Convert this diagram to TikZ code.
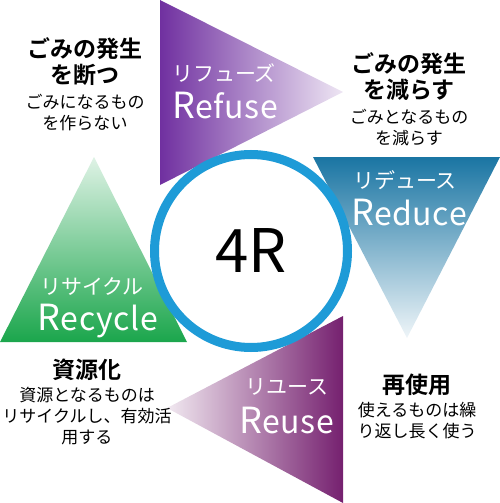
\documentclass[tikz,border=0pt]{standalone}
\usepackage{fontspec}
\setmainfont{Noto Sans CJK JP}[BoldFont={Noto Sans CJK JP Bold}]
\usetikzlibrary{positioning}

\definecolor{refusecol}{HTML}{7030A0}
\definecolor{reducecol}{HTML}{1A75A3}
\definecolor{reusecol}{HTML}{75206F}
\definecolor{recyclecol}{HTML}{1BA64C}
\definecolor{ringcol}{HTML}{1E9BD7}

\newcommand{\bigword}[2]{{\fontsize{36}{36}\selectfont #1}#2}

\begin{document}
\begin{tikzpicture}[x=1pt, y=-1pt,
  tag node/.style={text=white, inner sep=0pt, font=\fontsize{21}{24}\selectfont},
  word node/.style={text=white, inner sep=0pt, anchor=base, font=\fontsize{32}{34}\selectfont\addfontfeature{LetterSpace=2}},
  head node/.style={align=center, inner sep=0pt, font=\bfseries\fontsize{23}{26}\selectfont},
  note node/.style={align=center, inner sep=0pt, font=\fontsize{17}{21}\selectfont},
  ring node/.style={circle, draw=ringcol, line width=9pt, fill=white, minimum size=193pt, font=\fontsize{60}{62}\selectfont}]

  \useasboundingbox (0,0) rectangle (500,503);

  % Triangles
  \shade[left color=refusecol, right color=refusecol!12] (160,0) -- (160,185) -- (343,92) -- cycle;
  \shade[top color=reducecol, bottom color=reducecol!7] (313,157) -- (500,157) -- (407,338) -- cycle;
  \shade[right color=reusecol, left color=reusecol!10] (343,316) -- (343,503) -- (167,408) -- cycle;
  \shade[bottom color=recyclecol, top color=recyclecol!14] (0,342) -- (187,342) -- (94,157) -- cycle;

  % Centre
  \node[ring node] (core) at (251,251) {4R};

  % Triangle labels
  \node[tag node] (refuse) at (224,73) {リフューズ};
  \node[word node] (refuseword) at (225,118) {\bigword{R}{efuse}};
  \node[tag node] (reduce) at (405,180) {リデュース};
  \node[word node] (reduceword) at (409,225) {\bigword{R}{educe}};
  \node[tag node] (reuse) at (287,387) {リユース};
  \node[word node] (reuseword) at (287,433) {\bigword{R}{euse}};
  \node[tag node] (recycle) at (92,287) {リサイクル};
  \node[word node] (recycleword) at (98,330) {\bigword{R}{ecycle}};

  % Side texts
  \node[head node] (refusehead) at (85,62) {ごみの発生\\を断つ};
  \node[note node] (refusenote) [below=8pt of refusehead] {ごみになるもの\\を作らない};
  \node[head node] (reducehead) at (409,77) {ごみの発生\\を減らす};
  \node[note node] (reducenote) [below=8pt of reducehead] {ごみとなるもの\\を減らす};
  \node[head node] (reusehead) at (417,385) {再使用};
  \node[note node] (reusenote) [below=6pt of reusehead] {使えるものは繰\\り返し長く使う};
  \node[head node] (recyclehead) at (87,370) {資源化};
  \node[note node] (recyclenote) [below=6pt of recyclehead] {資源となるものは\\リサイクルし、有効活\\用する};
\end{tikzpicture}
\end{document}
